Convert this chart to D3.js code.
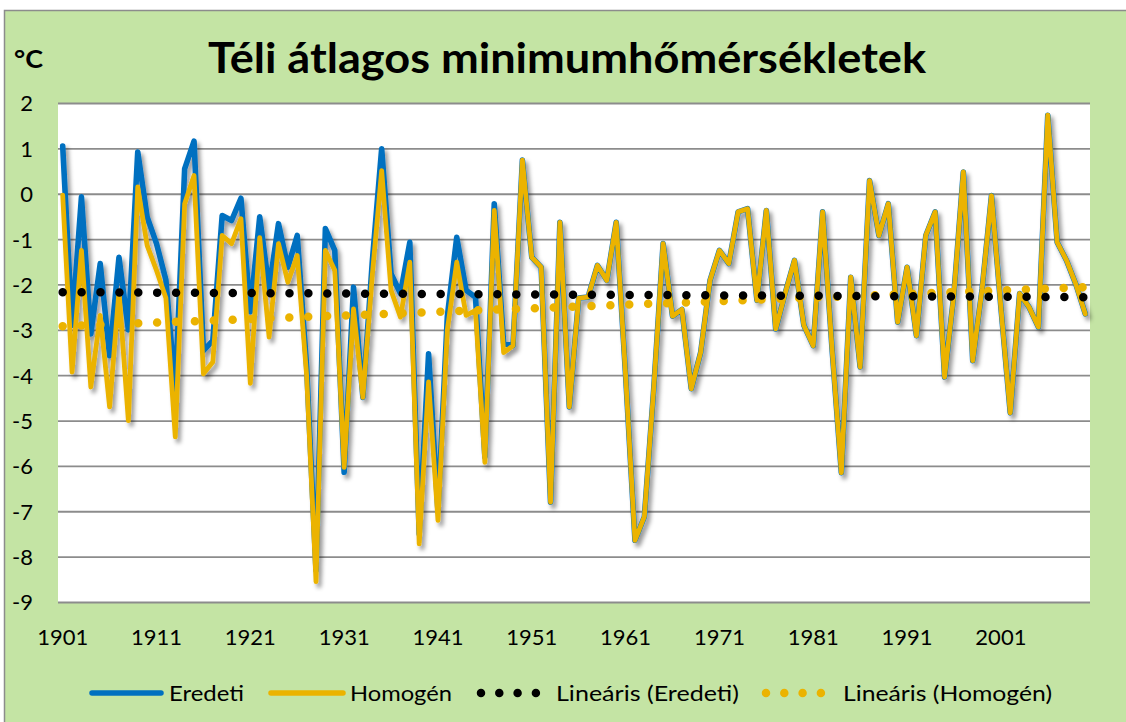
<!DOCTYPE html>
<html><head><meta charset="utf-8">
<script src="https://cdn.jsdelivr.net/npm/d3@7"></script>
<style>
html,body{margin:0;padding:0;background:#fff;}
svg{display:block;}
text{font-family:Lato,"Open Sans",sans-serif;}
</style></head>
<body>
<svg id="c" width="1126" height="722"></svg>
<script>
// ---- data ----
const years = d3.range(1901, 2011);
const eredeti = [1.05,-2.9,-0.07,-3.09,-1.54,-3.57,-1.40,-3.0,0.92,-0.51,
 -1.10,-1.9,-4.33,0.55,1.16,-3.46,-3.24,-0.48,-0.59,-0.10,
 -2.6,-0.51,-2.1,-0.66,-1.62,-0.92,-3.8,-8.3,-0.77,-1.25,
 -6.14,-2.06,-4.49,-1.5,0.99,-1.76,-2.2,-1.07,-7.5,-3.53,
 -7.0,-2.7,-0.96,-2.13,-2.28,-5.8,-0.22,-3.3,-3.35,0.74,
 -1.40,-1.62,-6.8,-0.63,-4.7,-2.3,-2.28,-1.58,-1.91,-0.63,
 -4.0,-7.64,-7.12,-4.3,-1.1,-2.7,-2.55,-4.3,-3.5,-1.91,
 -1.25,-1.54,-0.40,-0.33,-2.35,-0.37,-2.98,-2.2,-1.47,-2.9,
 -3.35,-0.40,-3.4,-6.15,-1.84,-3.82,0.29,-0.92,-0.22,-2.83,
 -1.62,-3.13,-0.92,-0.40,-4.04,-2.2,0.48,-3.68,-2.1,-0.04,
 -2.5,-4.83,-2.2,-2.5,-2.94,1.73,-1.07,-1.47,-2.0,-2.65];
const homogen = [-0.03,-3.93,-1.25,-4.26,-2.68,-4.7,-2.15,-5.0,0.15,-1.14,
 -1.69,-2.3,-5.36,-0.22,0.40,-3.97,-3.71,-0.92,-1.10,-0.55,
 -4.18,-0.97,-3.16,-1.10,-1.95,-1.36,-4.0,-8.55,-1.25,-1.69,
 -6.03,-2.54,-4.49,-1.8,0.51,-2.13,-2.72,-1.51,-7.72,-4.15,
 -7.2,-3.0,-1.51,-2.68,-2.57,-5.92,-0.37,-3.5,-3.35,0.74,
 -1.40,-1.62,-6.8,-0.63,-4.7,-2.3,-2.28,-1.58,-1.91,-0.63,
 -4.0,-7.64,-7.12,-4.3,-1.1,-2.7,-2.55,-4.3,-3.5,-1.91,
 -1.25,-1.54,-0.40,-0.33,-2.35,-0.37,-2.98,-2.2,-1.47,-2.9,
 -3.35,-0.40,-3.4,-6.15,-1.84,-3.82,0.29,-0.92,-0.22,-2.83,
 -1.62,-3.13,-0.92,-0.40,-4.04,-2.2,0.48,-3.68,-2.1,-0.04,
 -2.5,-4.83,-2.2,-2.5,-2.94,1.73,-1.07,-1.47,-2.0,-2.65];
const trendYears = [1901, 2010];
const trendEredeti = [-2.17, -2.28];
const trendHomogen = [-2.92, -2.06];
const xTickLabels = [1901,1911,1921,1931,1941,1951,1961,1971,1981,1991,2001];
const yTicks = [2,1,0,-1,-2,-3,-4,-5,-6,-7,-8,-9];
const seriesNames = ["Eredeti","Homogén","Lineáris (Eredeti)","Lineáris (Homogén)"];
const titleText = "Téli átlagos minimumhőmérsékletek";
const unitText = "°C";

// ---- drawing ----
const svg = d3.select("#c");
const W = 1126, H = 722;
const L = 58, R = 1090, T = 103, B = 602;
const BLUE = "#0070C0", GOLD = "#EBB300", BG = "#C4E4A4", GRID = "#8C8C8C";

const defs = svg.append("defs");
const f = defs.append("filter").attr("id","sh").attr("x","-5%").attr("y","-5%").attr("width","110%").attr("height","110%");
f.append("feDropShadow").attr("dx",3).attr("dy",4).attr("stdDeviation",2.2)
  .attr("flood-color","#000").attr("flood-opacity",0.4);

svg.append("rect").attr("x",4.5).attr("y",10.5).attr("width",W).attr("height",H)
  .attr("fill",BG).attr("stroke",GRID).attr("stroke-width",1.5);

svg.append("rect").attr("x",L).attr("y",T).attr("width",R-L).attr("height",B-T).attr("fill","#fff");

const x = d3.scaleBand().domain(years).range([L,R]).paddingInner(0).paddingOuter(0);
const cx = yr => x(yr) + x.bandwidth()/2;
const y = d3.scaleLinear().domain([-9,2]).range([B,T]);

// gridlines + y labels
const yAxis = d3.axisLeft(y).tickValues(yTicks).tickSize(-(R-L)).tickFormat(d3.format("d"));
const gy = svg.append("g").attr("transform",`translate(${L},0)`).call(yAxis);
gy.select(".domain").remove();
gy.selectAll(".tick line").attr("stroke",GRID).attr("stroke-width",1.8);
gy.selectAll(".tick text").attr("x",-25).attr("dy","0.36em").attr("font-size",22)
  .attr("fill","#000").attr("font-family","Lato").text(d => d < 0 ? "-" + Math.abs(d) : d);

// x labels
const xAxis = d3.axisBottom(x).tickValues(xTicks = xTickLabels).tickSize(0);
const gx = svg.append("g").attr("transform",`translate(0,${B})`).call(xAxis);
gx.select(".domain").remove();
gx.selectAll(".tick text").attr("y",27).attr("dy","0.71em").attr("font-size",22)
  .attr("fill","#000").attr("font-family","Lato");

// series lines
const line = d3.line().x((d,i) => cx(years[i])).y(d => y(d));
const gLines = svg.append("g").attr("filter","url(#sh)");
gLines.append("path").datum(eredeti).attr("d",line).attr("fill","none")
  .attr("stroke",BLUE).attr("stroke-width",5.6).attr("stroke-linejoin","round").attr("stroke-linecap","round");
gLines.append("path").datum(homogen).attr("d",line).attr("fill","none")
  .attr("stroke",GOLD).attr("stroke-width",4.8).attr("stroke-linejoin","round").attr("stroke-linecap","round");

// trend lines
const tline = d3.line().x((d,i) => cx(trendYears[i])).y(d => y(d));
svg.append("path").datum(trendHomogen).attr("d",tline).attr("fill","none")
  .attr("stroke",GOLD).attr("stroke-width",8.5).attr("stroke-linecap","round").attr("stroke-dasharray","0 18.9");
svg.append("path").datum(trendEredeti).attr("d",tline).attr("fill","none")
  .attr("stroke","#000").attr("stroke-width",8.5).attr("stroke-linecap","round").attr("stroke-dasharray","0 18.9");

// title
svg.append("text").attr("x",208).attr("y",73).attr("font-size",42).attr("font-weight","bold")
  .attr("font-family","Lato").attr("fill","#000").attr("textLength",718).attr("lengthAdjust","spacingAndGlyphs")
  .text(titleText);
svg.append("text").attr("x",14).attr("y",68).attr("font-size",25).attr("font-weight","bold")
  .attr("font-family","Lato").attr("fill","#000").attr("textLength",29).attr("lengthAdjust","spacingAndGlyphs")
  .text(unitText);

// legend
const ly = 693;
const leg = svg.append("g");
const items = [
  {x1:92,x2:161,tx:169,tw:75,color:BLUE,dot:false},
  {x1:271,x2:343,tx:350,tw:102,color:GOLD,dot:false},
  {x1:481,x2:536,tx:556,tw:183,color:"#000",dot:true},
  {x1:766,x2:821,tx:843,tw:209,color:GOLD,dot:true}
];
items.forEach((it,k) => {
  const p = leg.append("line").attr("x1",it.x1).attr("x2",it.x2).attr("y1",ly).attr("y2",ly)
    .attr("stroke",it.color);
  if (it.dot) p.attr("stroke-width",8.5).attr("stroke-linecap","round").attr("stroke-dasharray","0 18.3");
  else p.attr("stroke-width",5.5).attr("stroke-linecap","round");
  leg.append("text").attr("x",it.tx).attr("y",ly).attr("dy","0.36em").attr("font-size",22)
    .attr("font-family","Lato").attr("fill","#000").attr("textLength",it.tw).attr("lengthAdjust","spacingAndGlyphs")
    .text(seriesNames[k]);
});
</script>
</body></html>
